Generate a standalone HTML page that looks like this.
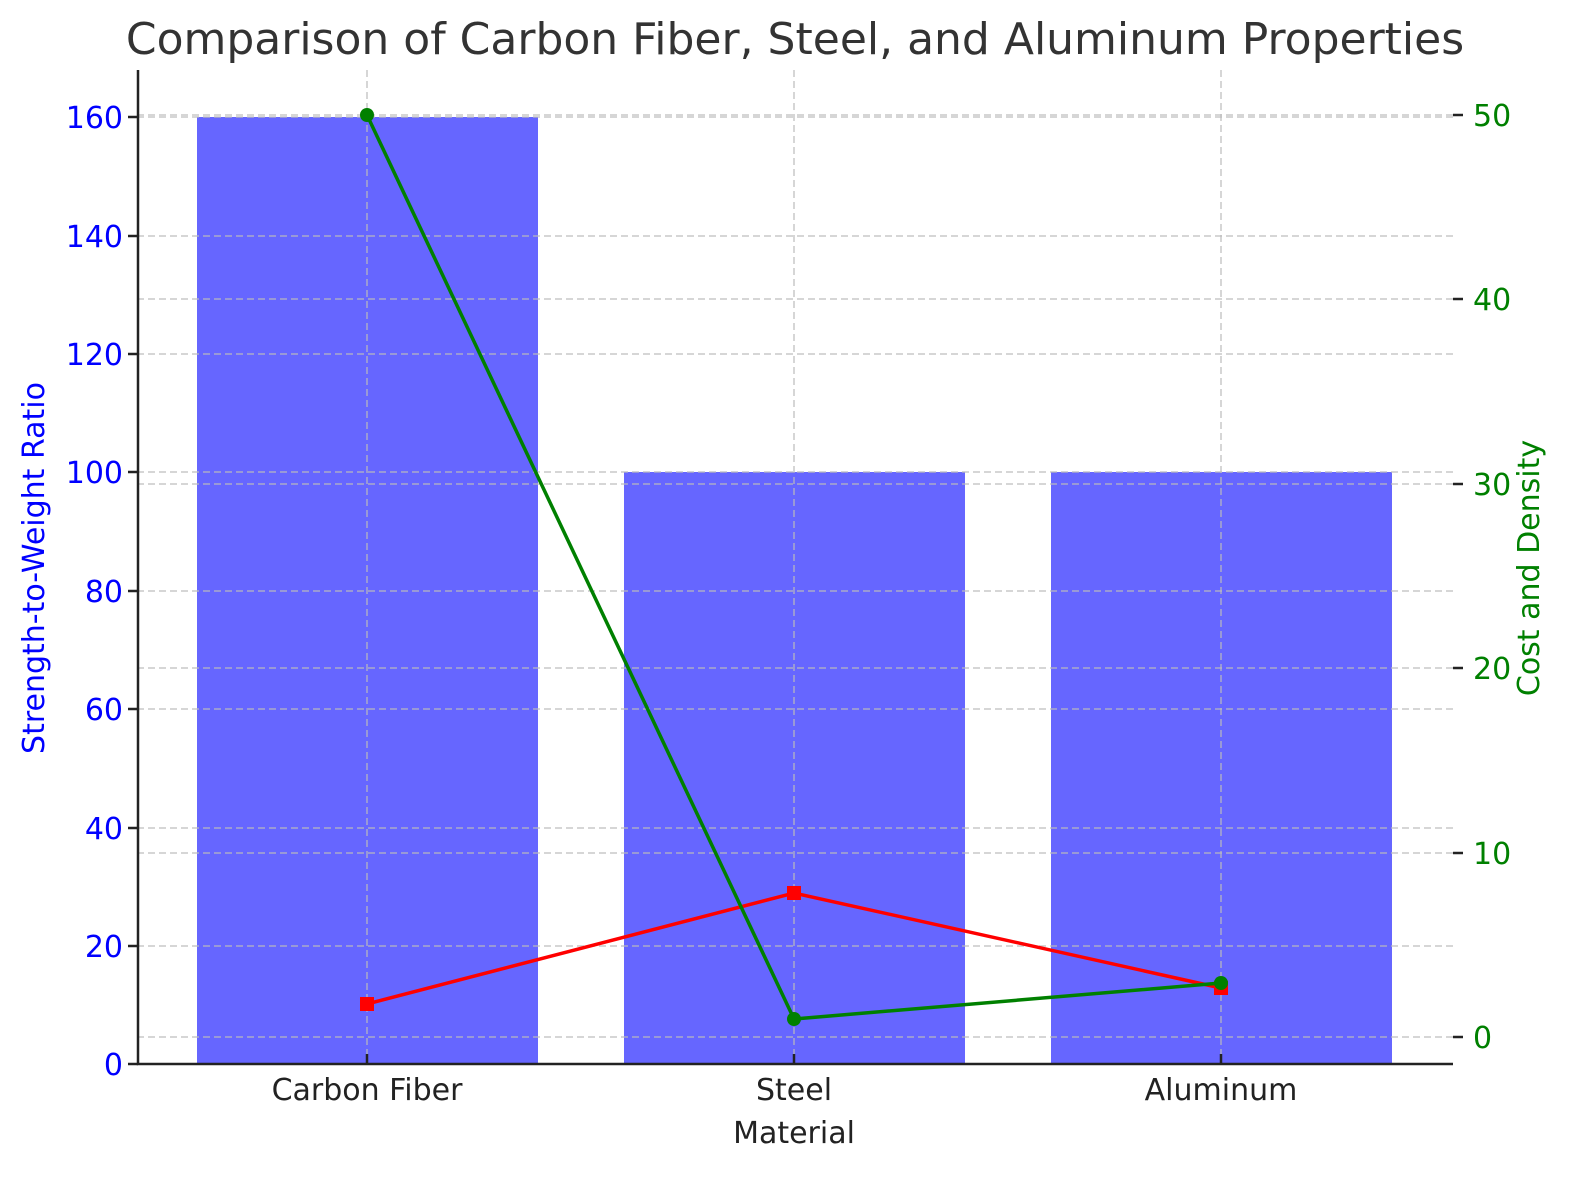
<!DOCTYPE html>
<html><head><meta charset="utf-8"><style>body{margin:0;background:#fff}svg{display:block}text{font-family:"DejaVu Sans","Liberation Sans",sans-serif}</style></head><body>
<svg width="1580" height="1180" viewBox="0 0 1580 1180">
<rect width="1580" height="1180" fill="#fff"/>
<text x="795" y="54" font-size="44" fill="#333" text-anchor="middle">Comparison of Carbon Fiber, Steel, and Aluminum Properties</text>
<rect x="197" y="117" width="341" height="947" fill="#6666ff"/>
<rect x="624" y="472" width="341" height="592" fill="#6666ff"/>
<rect x="1051" y="472" width="341" height="592" fill="#6666ff"/>
<g stroke="#bbb" stroke-opacity="0.8" stroke-width="1.5" stroke-dasharray="7,4">
<line x1="137" x2="1453" y1="946" y2="946"/><line x1="137" x2="1453" y1="828" y2="828"/><line x1="137" x2="1453" y1="709" y2="709"/><line x1="137" x2="1453" y1="591" y2="591"/><line x1="137" x2="1453" y1="472" y2="472"/><line x1="137" x2="1453" y1="354" y2="354"/><line x1="137" x2="1453" y1="236" y2="236"/><line x1="137" x2="1453" y1="117" y2="117"/>
<line x1="137" x2="1463" y1="1037" y2="1037"/><line x1="137" x2="1463" y1="853" y2="853"/><line x1="137" x2="1463" y1="668" y2="668"/><line x1="137" x2="1463" y1="484" y2="484"/><line x1="137" x2="1463" y1="299" y2="299"/><line x1="137" x2="1463" y1="115" y2="115"/>
<line x1="367" x2="367" y1="70" y2="1064"/><line x1="794" x2="794" y1="70" y2="1064"/><line x1="1221" x2="1221" y1="70" y2="1064"/>
</g>
<g stroke="#222" stroke-width="2.5" fill="none">
<path d="M138 70 V1064 H1453"/>
<path d="M128 1064H138M128 946H138M128 828H138M128 709H138M128 591H138M128 472H138M128 354H138M128 236H138M128 117H138"/>
<path d="M1453 1037H1463M1453 853H1463M1453 668H1463M1453 484H1463M1453 299H1463M1453 115H1463"/>
<path d="M367 1054V1064M794 1054V1064M1221 1054V1064"/>
</g>
<g font-size="30" fill="#0000ff" text-anchor="end">
<text x="123" y="1075">0</text><text x="123" y="957">20</text><text x="123" y="839">40</text><text x="123" y="720">60</text><text x="123" y="602">80</text><text x="123" y="483">100</text><text x="123" y="365">120</text><text x="123" y="247">140</text><text x="123" y="128">160</text>
</g>
<g font-size="30" fill="#008000">
<text x="1473" y="1048">0</text><text x="1473" y="864">10</text><text x="1473" y="679">20</text><text x="1473" y="495">30</text><text x="1473" y="310">40</text><text x="1473" y="126">50</text>
</g>
<g font-size="30" fill="#222" text-anchor="middle">
<text x="367" y="1100">Carbon Fiber</text><text x="794" y="1100">Steel</text><text x="1221" y="1100">Aluminum</text>
<text x="794" y="1143">Material</text>
</g>
<text transform="translate(44,568) rotate(-90)" font-size="30" fill="#0000ff" text-anchor="middle">Strength-to-Weight Ratio</text>
<text transform="translate(1539,568) rotate(-90)" font-size="30" fill="#008000" text-anchor="middle">Cost and Density</text>
<polyline points="367,1004 794,893 1221,988" fill="none" stroke="#ff0000" stroke-width="3.5"/>
<g fill="#ff0000"><rect x="360" y="997" width="14" height="14"/><rect x="787" y="886" width="14" height="14"/><rect x="1214" y="981" width="14" height="14"/></g>
<polyline points="367,115 794,1019 1221,983" fill="none" stroke="#008000" stroke-width="3.5"/>
<g fill="#008000"><circle cx="367" cy="115" r="7"/><circle cx="794" cy="1019" r="7"/><circle cx="1221" cy="983" r="7"/></g>
</svg>
</body></html>
